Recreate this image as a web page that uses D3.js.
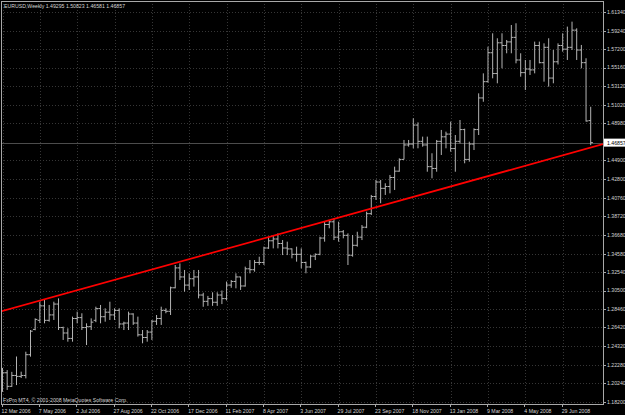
<!DOCTYPE html>
<html>
<head>
<meta charset="utf-8">
<style>
  body { margin: 0; background: #000; }
  svg { display: block; }
  text { font-family: "Liberation Sans", Arial, sans-serif; font-size: 5.2px; fill: #d4d4d4; }
</style>
<title>EURUSD,Weekly</title>
</head>
<body>
<script src="https://cdn.jsdelivr.net/npm/d3@7"></script>
<script>

// weekly bars, first one is the week of 12 Mar 2006
var firstWeek = "2006-03-12";
var open  = [1.1935,1.2140,1.1990,1.2110,1.2100,1.2110,1.2340,1.2620,1.2720,1.2880,1.2720,1.2780,1.2900,1.2640,1.2580,1.2520,1.2740,1.2750,1.2640,1.2650,1.2720,1.2850,1.2760,1.2810,1.2780,1.2830,1.2680,1.2690,1.2790,1.2690,1.2560,1.2530,1.2590,1.2710,1.2740,1.2830,1.2820,1.3080,1.3300,1.3200,1.3110,1.3180,1.3200,1.3000,1.2930,1.2960,1.2920,1.3000,1.2960,1.3110,1.3150,1.3200,1.3100,1.3290,1.3280,1.3360,1.3360,1.3520,1.3600,1.3620,1.3570,1.3520,1.3510,1.3450,1.3450,1.3360,1.3310,1.3430,1.3450,1.3630,1.3780,1.3810,1.3640,1.3700,1.3660,1.3440,1.3550,1.3640,1.3750,1.3900,1.4090,1.4250,1.4180,1.4200,1.4300,1.4370,1.4500,1.4660,1.4670,1.4880,1.4700,1.4660,1.4420,1.4400,1.4700,1.4750,1.4780,1.4620,1.4700,1.4830,1.4500,1.4670,1.4830,1.5180,1.5360,1.5680,1.5450,1.5790,1.5760,1.5800,1.5850,1.5600,1.5460,1.5500,1.5490,1.5760,1.5570,1.5740,1.5400,1.5580,1.5760,1.5720,1.5740,1.5930,1.5710,1.5570,1.49295];
var high  = [1.2193,1.2170,1.2150,1.2320,1.2152,1.2373,1.2613,1.2742,1.2926,1.2945,1.2890,1.2926,1.2963,1.2650,1.2632,1.2761,1.2816,1.2798,1.2687,1.2742,1.2871,1.2890,1.2853,1.2926,1.2853,1.2853,1.2705,1.2816,1.2798,1.2761,1.2613,1.2613,1.2724,1.2779,1.2871,1.2853,1.3093,1.3332,1.3350,1.3277,1.3240,1.3277,1.3277,1.3025,1.2990,1.3030,1.3030,1.3050,1.3149,1.3166,1.3240,1.3203,1.3314,1.3387,1.3387,1.3424,1.3535,1.3645,1.3664,1.3682,1.3608,1.3590,1.3516,1.3535,1.3516,1.3369,1.3442,1.3461,1.3645,1.3811,1.3830,1.3848,1.3811,1.3719,1.3682,1.3664,1.3700,1.3774,1.3922,1.4107,1.4273,1.4273,1.4236,1.4328,1.4420,1.4512,1.4715,1.4715,1.4955,1.4910,1.4752,1.4752,1.4568,1.4715,1.4826,1.4807,1.4918,1.4770,1.4936,1.4840,1.4696,1.4844,1.5231,1.5452,1.5747,1.5895,1.5840,1.5895,1.5821,1.5987,1.6006,1.5674,1.5600,1.5600,1.5803,1.5803,1.5784,1.5840,1.5711,1.5784,1.5895,1.5969,1.6024,1.5950,1.5766,1.5619,1.50823];
var low   = [1.1930,1.1950,1.1985,1.2004,1.2082,1.2078,1.2318,1.2610,1.2690,1.2687,1.2705,1.2724,1.2613,1.2503,1.2484,1.2484,1.2687,1.2613,1.2447,1.2613,1.2700,1.2687,1.2705,1.2724,1.2724,1.2632,1.2613,1.2613,1.2669,1.2540,1.2466,1.2484,1.2503,1.2669,1.2669,1.2798,1.2779,1.3074,1.3166,1.3037,1.3056,1.3093,1.2963,1.2870,1.2880,1.2880,1.2880,1.2900,1.2940,1.3080,1.3074,1.3056,1.3093,1.3240,1.3258,1.3332,1.3332,1.3510,1.3516,1.3516,1.3442,1.3442,1.3406,1.3369,1.3295,1.3240,1.3300,1.3387,1.3440,1.3590,1.3738,1.3608,1.3590,1.3627,1.3332,1.3424,1.3535,1.3608,1.3740,1.3885,1.4052,1.4015,1.4107,1.4125,1.4162,1.4364,1.4500,1.4641,1.4623,1.4623,1.4641,1.4364,1.4291,1.4364,1.4549,1.4623,1.4586,1.4364,1.4678,1.4457,1.4475,1.4604,1.4770,1.5138,1.5350,1.5397,1.5342,1.5508,1.5674,1.5674,1.5563,1.5415,1.5268,1.5434,1.5452,1.5563,1.5360,1.5305,1.5342,1.5550,1.5692,1.5600,1.5711,1.5600,1.5508,1.4918,1.46581];
var close = [1.2140,1.1990,1.2110,1.2100,1.2110,1.2340,1.2600,1.2730,1.2880,1.2720,1.2780,1.2900,1.2640,1.2580,1.2520,1.2740,1.2750,1.2640,1.2650,1.2700,1.2850,1.2760,1.2810,1.2780,1.2830,1.2680,1.2690,1.2790,1.2690,1.2560,1.2530,1.2590,1.2710,1.2740,1.2830,1.2820,1.3080,1.3300,1.3200,1.3110,1.3180,1.3200,1.3000,1.2930,1.2960,1.2920,1.3000,1.2960,1.3110,1.3150,1.3200,1.3100,1.3290,1.3280,1.3360,1.3360,1.3520,1.3600,1.3620,1.3570,1.3520,1.3510,1.3450,1.3450,1.3360,1.3310,1.3430,1.3450,1.3630,1.3780,1.3810,1.3640,1.3700,1.3660,1.3440,1.3550,1.3640,1.3750,1.3900,1.4090,1.4250,1.4180,1.4200,1.4300,1.4370,1.4500,1.4660,1.4670,1.4880,1.4700,1.4660,1.4420,1.4400,1.4700,1.4750,1.4780,1.4620,1.4700,1.4830,1.4500,1.4670,1.4830,1.5180,1.5360,1.5680,1.5450,1.5790,1.5760,1.5800,1.5850,1.5600,1.5460,1.5500,1.5490,1.5760,1.5570,1.5740,1.5400,1.5580,1.5760,1.5720,1.5740,1.5930,1.5710,1.5570,1.4925,1.46857];

var priceTicks = ["1.61340","1.59240","1.57200","1.55160","1.53120","1.51020","1.48980","1.44900","1.42800","1.40760","1.38720","1.36680","1.34580","1.32540","1.30500","1.28460","1.26420","1.24320","1.22280","1.20240","1.18200"];
var dateTicks = ["12 Mar 2006","7 May 2006","2 Jul 2006","27 Aug 2006","22 Oct 2006","17 Dec 2006","11 Feb 2007","8 Apr 2007","3 Jun 2007","29 Jul 2007","23 Sep 2007","18 Nov 2007","13 Jan 2008","9 Mar 2008","4 May 2008","29 Jun 2008"];

// trend line anchors (ray to the right)
var trendDates  = ["2006-03-12", "2008-08-10"];
var trendPrices = [1.2823, 1.4631];

var title = "EURUSD,Weekly  1.49295 1.50823 1.46581 1.46857";
var copyright = "FxPro MT4, \u00a9 2001-2008 MetaQuotes Software Corp.";

var W = 625, H = 415;
var plot = {left: 1, top: 1, right: 603, bottom: 404};

var parseDay = d3.timeParse("%Y-%m-%d");
var parseTick = d3.timeParse("%d %b %Y");
var t0 = parseDay(firstWeek);
var bars = open.map((o, i) => ({
  date: d3.timeWeek.offset(t0, i),
  o: o, h: high[i], l: low[i], c: close[i]
}));

var x = d3.scaleTime()
  .domain([bars[0].date, bars[bars.length-1].date])
  .range([2.5, 590.7]);

var y = d3.scaleLinear()
  .domain([1.18200, 1.61340])
  .range([401.7, 11.7]);

var svg = d3.select("body").append("svg")
  .attr("width", W)
  .attr("height", H);

svg.append("rect")
  .attr("width", W).attr("height", H)
  .attr("fill", "#000");

svg.append("clipPath").attr("id", "plotclip")
  .append("rect")
  .attr("x", plot.left).attr("y", plot.top)
  .attr("width", plot.right - plot.left)
  .attr("height", plot.bottom - plot.top);

// grid
var grid = svg.append("g")
  .attr("stroke", "#363636")
  .attr("stroke-dasharray", "1,2")
  .attr("shape-rendering", "crispEdges");

grid.selectAll(".hg").data(priceTicks).join("line")
  .attr("x1", plot.left).attr("x2", plot.right)
  .attr("y1", d => Math.round(y(+d)) + 0.5)
  .attr("y2", d => Math.round(y(+d)) + 0.5);

grid.selectAll(".vg").data(dateTicks).join("line")
  .attr("x1", d => Math.round(x(parseTick(d))) + 0.5)
  .attr("x2", d => Math.round(x(parseTick(d))) + 0.5)
  .attr("y1", plot.top).attr("y2", plot.bottom);

// bid line
var bid = close[close.length-1];
svg.append("line")
  .attr("x1", plot.left).attr("x2", plot.right)
  .attr("y1", Math.round(y(bid)) + 0.5).attr("y2", Math.round(y(bid)) + 0.5)
  .attr("stroke", "#4c4c4c")
  .attr("stroke-width", 1)
  .attr("shape-rendering", "crispEdges");

// OHLC bars
var gBars = svg.append("g")
  .attr("clip-path", "url(#plotclip)")
  .attr("stroke", "#b4b4b4")
  .attr("stroke-width", 1);

gBars.selectAll(".hl").data(bars).join("line")
  .attr("x1", d => x(d.date)).attr("x2", d => x(d.date))
  .attr("y1", d => y(d.h)).attr("y2", d => y(d.l));

gBars.selectAll(".op").data(bars).join("line")
  .attr("x1", d => x(d.date) - 2.2).attr("x2", d => x(d.date))
  .attr("y1", d => y(d.o)).attr("y2", d => y(d.o));

gBars.selectAll(".cl").data(bars).join("line")
  .attr("x1", d => x(d.date)).attr("x2", d => x(d.date) + 2.2)
  .attr("y1", d => y(d.c)).attr("y2", d => y(d.c));

// trend line as a ray
var ta = {x: x(parseDay(trendDates[0])), y: y(trendPrices[0])};
var tb = {x: x(parseDay(trendDates[1])), y: y(trendPrices[1])};
var slope = (tb.y - ta.y) / (tb.x - ta.x);
svg.append("line")
  .attr("clip-path", "url(#plotclip)")
  .attr("x1", plot.left - 2).attr("y1", ta.y + slope * (plot.left - 2 - ta.x))
  .attr("x2", plot.right).attr("y2", ta.y + slope * (plot.right - ta.x))
  .attr("stroke", "#ff0000")
  .attr("stroke-width", 1.7);

// frame
svg.append("path")
  .attr("d", `M${plot.left + 0.5},${plot.bottom}V${plot.top + 0.5}H${plot.right + 0.5}V${plot.bottom + 0.5}H${plot.left}`)
  .attr("fill", "none")
  .attr("stroke", "#a8a8a8")
  .attr("shape-rendering", "crispEdges");

// price axis
var pAxis = svg.append("g");
pAxis.selectAll("line").data(priceTicks).join("line")
  .attr("x1", plot.right).attr("x2", plot.right + 3)
  .attr("y1", d => Math.round(y(+d)) + 0.5)
  .attr("y2", d => Math.round(y(+d)) + 0.5)
  .attr("stroke", "#a8a8a8")
  .attr("shape-rendering", "crispEdges");
pAxis.selectAll("text").data(priceTicks).join("text")
  .attr("x", plot.right + 4)
  .attr("y", d => y(+d) + 1.9)
  .text(d => d);

// current price label
var bidY = y(bid);
svg.append("rect")
  .attr("x", plot.right + 1).attr("y", bidY - 4)
  .attr("width", 22).attr("height", 8)
  .attr("fill", "#fff");
svg.append("text")
  .attr("x", plot.right + 4)
  .attr("y", bidY + 1.9)
  .style("fill", "#000")
  .text(d3.format(".5f")(bid));

// time axis
var tAxis = svg.append("g");
tAxis.selectAll("line").data(dateTicks).join("line")
  .attr("x1", d => Math.round(x(parseTick(d))) - 0.5)
  .attr("x2", d => Math.round(x(parseTick(d))) - 0.5)
  .attr("y1", plot.bottom).attr("y2", plot.bottom + 3)
  .attr("stroke", "#a8a8a8")
  .attr("shape-rendering", "crispEdges");
tAxis.selectAll("text").data(dateTicks).join("text")
  .attr("x", d => x(parseTick(d)) - 1)
  .attr("y", 413)
  .text(d => d);

// labels
svg.append("text").attr("x", 4).attr("y", 7.6).text(title);
svg.append("text").attr("x", 3).attr("y", 402).text(copyright);

</script>
</body>
</html>
